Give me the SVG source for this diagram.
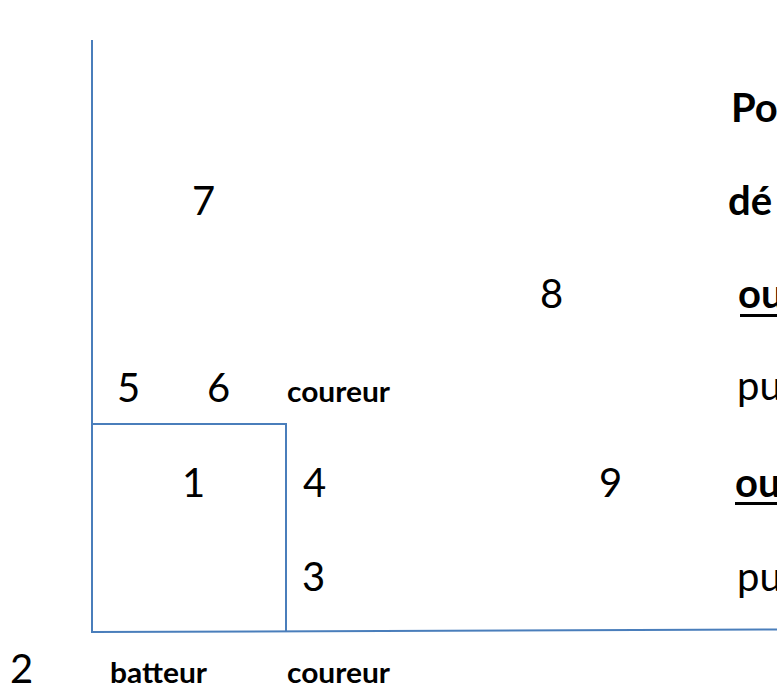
<svg xmlns="http://www.w3.org/2000/svg" width="777" height="689" viewBox="0 0 777 689">
<style>
.ln{stroke:#4a7ebb;stroke-width:2;fill:none}
.t{font-family:Lato,"Open Sans","Liberation Sans",sans-serif;font-size:40px;fill:#000}
.b{font-weight:bold}
.s{font-family:Lato,"Open Sans","Liberation Sans",sans-serif;font-size:29px;font-weight:bold;fill:#000}
.u{fill:#000}
</style>
<rect width="777" height="689" fill="#fff"/>
<g id="lines">
<line class="ln" x1="92" y1="40" x2="92" y2="633"/>
<line class="ln" x1="92" y1="424" x2="287" y2="424"/>
<line class="ln" x1="286" y1="424" x2="286" y2="632"/>
<line class="ln" x1="92" y1="632" x2="777" y2="629.5"/>
</g>
<g id="labels">
<text class="t b" x="731" y="122">Po</text>
<text class="t" x="192" y="215">7</text>
<text class="t b" x="728" y="215">dé</text>
<text class="t" x="540" y="308">8</text>
<text class="t b" x="738" y="308">ou</text>
<rect class="u" x="740" y="314" width="37" height="3"/>
<text class="t" x="117" y="402">5</text>
<text class="t" x="207" y="402">6</text>
<text class="s" x="287" y="402" textLength="103" lengthAdjust="spacingAndGlyphs">coureur</text>
<text class="t" x="737" y="400">pu</text>
<text class="t" x="182" y="497">1</text>
<text class="t" x="303" y="497">4</text>
<text class="t" x="599" y="497">9</text>
<text class="t b" x="735" y="497">ou</text>
<rect class="u" x="735" y="502" width="42" height="3"/>
<text class="t" x="302" y="591">3</text>
<text class="t" x="737" y="591">pu</text>
<text class="t" x="10" y="683">2</text>
<text class="s" x="110" y="683" textLength="97" lengthAdjust="spacingAndGlyphs">batteur</text>
<text class="s" x="287" y="683" textLength="103" lengthAdjust="spacingAndGlyphs">coureur</text>
</g>
</svg>
